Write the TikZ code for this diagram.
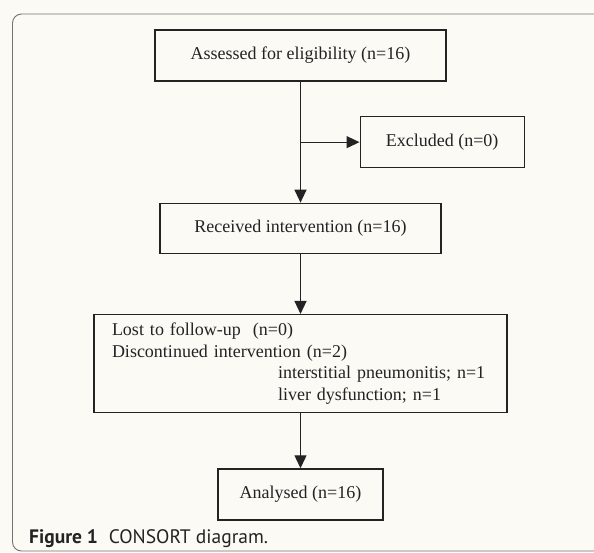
\documentclass[tikz,border=0pt]{standalone}
\usepackage{fontspec}
\setmainfont{Liberation Serif}
\newfontfamily\capfont{PT Sans}
\usetikzlibrary{arrows.meta,positioning,calc}
\definecolor{paper}{RGB}{251,250,245}
\definecolor{ink}{RGB}{35,35,35}
\tikzset{x=1pt, y=1pt, box/.style={draw=ink, line width=1.3pt, rectangle, minimum height=51pt, inner sep=0pt, text=ink, font=\fontsize{18}{21.7}\selectfont}, flow/.style={draw=ink, line width=1.3pt, -{Triangle[length=13pt,width=12pt]}}, frame/.style={draw=black!55, line width=0.9pt, rounded corners=9pt}}

\begin{document}
\begin{tikzpicture}
    \useasboundingbox (0,0) rectangle (594,-552);
    \clip (0,0) rectangle (594,-552);
    \fill[paper] (0,0) rectangle (594,-552);
    \draw[frame] (12.5,-551) rectangle (640,-14);
    \node[box, minimum width=291pt] (assess) at (300.5,-55.5) {Assessed for eligibility (n=16)};
    \node[box, minimum width=281pt, minimum height=50pt, below=121pt of assess] (recv) {Received intervention (n=16)};
    \coordinate (split) at ($(assess.south)!0.5!(recv.north)$);
    \node[box, minimum width=164pt, right=59pt of split] (excl) {Excluded (n=0)};
    \node[box, minimum width=413pt, minimum height=98pt, text width=377pt, align=left, below=60pt of recv] (lost) {Lost to follow-up\ \ (n=0)\\Discontinued intervention (n=2)\\\hspace*{166pt}interstitial pneumonitis; n=1\\\hspace*{166pt}liver dysfunction; n=1};
    \node[box, minimum width=165pt, below=55pt of lost] (anal) {Analysed (n=16)};
    \draw[flow] (assess) -- (recv);
    \draw[flow] (split) -- (excl);
    \draw[flow] (recv) -- (lost);
    \draw[flow] (lost) -- (anal);
    \node[anchor=base west, inner sep=0pt, text=ink, font=\capfont\fontsize{19.5}{22}\selectfont] (caption) at (29,-543) {\textbf{Figure 1}\hspace{0.55em}CONSORT diagram.};
\end{tikzpicture}
\end{document}
